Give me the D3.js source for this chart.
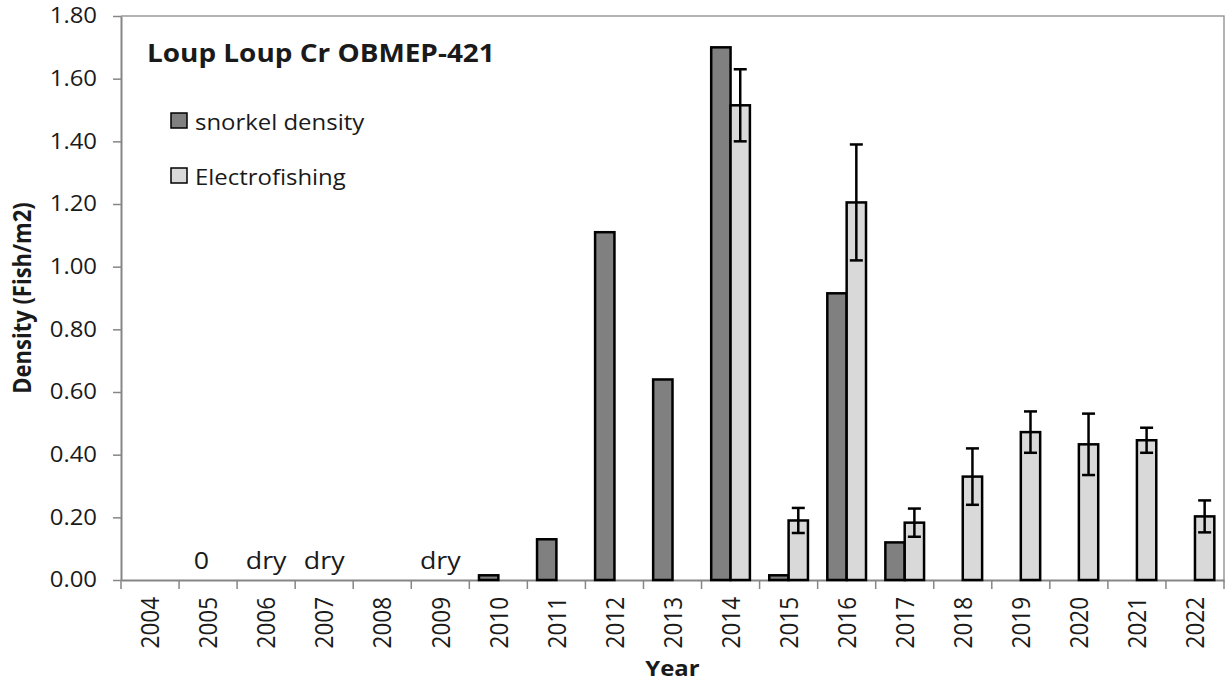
<!DOCTYPE html>
<html lang="en">

<head>
    <meta charset="UTF-8">
    <title>Loup Loup Cr OBMEP-421</title>
    <style>
        body { margin: 0; background: #fff; }
        text { font-family: "Open Sans", sans-serif; fill: #1a1a1a; }
    </style>
</head>

<body>
    <svg width="1225" height="684"></svg>
    <script src="https://d3js.org/d3.v7.min.js"></script>
    <script>

        // data
        let years = ["2004", "2005", "2006", "2007", "2008", "2009", "2010", "2011", "2012", "2013",
            "2014", "2015", "2016", "2017", "2018", "2019", "2020", "2021", "2022"];
        let snorkel = [null, 0, null, null, null, null, 0.015, 0.13, 1.11, 0.64,
            1.70, 0.015, 0.915, 0.12, null, null, null, null, null];
        let electro = [null, null, null, null, null, null, null, null, null, null,
            1.515, 0.19, 1.205, 0.183, 0.33, 0.472, 0.433, 0.446, 0.203];
        let electroErr = [null, null, null, null, null, null, null, null, null, null,
            0.115, 0.04, 0.185, 0.045, 0.09, 0.066, 0.098, 0.04, 0.051];
        let notes = [null, "0", "dry", "dry", null, "dry", null, null, null, null,
            null, null, null, null, null, null, null, null, null];
        let yTicks = [0, 0.2, 0.4, 0.6, 0.8, 1.0, 1.2, 1.4, 1.6, 1.8];
        let seriesNames = ["snorkel density", "Electrofishing"];
        let seriesColors = ["#808080", "#d9d9d9"];

        let SX = 1.14; // the picture's text is a bit wide

        let svg = d3.select("svg"),
            margin = { top: 16, right: 1, bottom: 104, left: 121 },
            width = +svg.attr("width") - margin.left - margin.right,
            height = +svg.attr("height") - margin.top - margin.bottom,
            g = svg.append("g").attr("transform", "translate(" + margin.left + "," + margin.top + ")");

        let x = d3.scaleBand().domain(years).range([0, width]);
        let sub = d3.scaleBand().domain([0, 1]).range([0, x.bandwidth()]).paddingOuter(0.5);
        let y = d3.scaleLinear().domain([0, 1.8]).range([height, 0]);

        // plot border (top + right)
        g.append("path")
            .attr("d", "M0,0H" + width + "V" + height)
            .attr("fill", "none")
            .attr("stroke", "#9a9a9a")
            .attr("stroke-width", 1.5);

        // y axis
        let ya = g.append("g")
            .call(d3.axisLeft(y).tickValues(yTicks).tickFormat(d3.format(".2f")).tickSize(8).tickSizeOuter(0));
        ya.select(".domain").attr("stroke", "#868686").attr("stroke-width", 2);
        ya.selectAll(".tick line").attr("stroke", "#868686").attr("stroke-width", 1.5);
        ya.selectAll(".tick text")
            .attr("x", -21)
            .attr("transform", "scale(" + SX + ",1)")
            .style("font-size", "21px")
            .attr("fill", "#1a1a1a");

        // x axis: labels at centres, ticks at boundaries
        let xa = g.append("g")
            .attr("transform", "translate(0," + height + ")")
            .call(d3.axisBottom(x).tickSize(0).tickSizeOuter(0));
        xa.select(".domain").attr("stroke", "#868686").attr("stroke-width", 2);
        xa.selectAll(".tick text")
            .attr("x", 0).attr("y", 0)
            .attr("dy", "0.36em")
            .attr("text-anchor", "end")
            .attr("transform", "translate(0,17) scale(" + SX + ",1) rotate(-90)")
            .style("font-size", "22.5px")
            .attr("fill", "#1a1a1a");

        let bounds = years.map(d => x(d)).concat([width]);
        xa.selectAll(".bound")
            .data(bounds)
            .enter().append("line")
            .attr("x1", d => d).attr("x2", d => d)
            .attr("y1", 0).attr("y2", 9)
            .attr("stroke", "#868686")
            .attr("stroke-width", 1.5);

        // bars
        let series = [snorkel, electro];
        series.forEach((vals, s) => {
            g.append("g").selectAll("rect")
                .data(years.map((yr, i) => ({ yr: yr, v: vals[i] })).filter(d => d.v))
                .enter().append("rect")
                .attr("x", d => x(d.yr) + sub(s))
                .attr("width", sub.bandwidth())
                .attr("y", d => y(d.v))
                .attr("height", d => y(0) - y(d.v))
                .attr("fill", seriesColors[s])
                .attr("stroke", "#000")
                .attr("stroke-width", 2.5);
        });

        // error bars on electrofishing
        let errs = years.map((yr, i) => ({ yr: yr, v: electro[i], e: electroErr[i] })).filter(d => d.e);
        let eg = g.append("g").selectAll("g")
            .data(errs)
            .enter().append("g")
            .attr("transform", d => "translate(" + (x(d.yr) + sub(1) + sub.bandwidth() / 2) + ",0)")
            .attr("stroke", "#000")
            .attr("stroke-width", 2.5);
        eg.append("line")
            .attr("y1", d => y(d.v - d.e)).attr("y2", d => y(d.v + d.e));
        eg.append("line")
            .attr("x1", -6.5).attr("x2", 6.5)
            .attr("y1", d => y(d.v + d.e)).attr("y2", d => y(d.v + d.e));
        eg.append("line")
            .attr("x1", -6.5).attr("x2", 6.5)
            .attr("y1", d => y(d.v - d.e)).attr("y2", d => y(d.v - d.e));

        // "0" / "dry" notes
        g.append("g").selectAll("text")
            .data(years.map((yr, i) => ({ yr: yr, t: notes[i] })).filter(d => d.t))
            .enter().append("text")
            .attr("transform", d => {
                let cx = d.t == "0" ? x(d.yr) + sub(0) + sub.bandwidth() / 2 + 3 : x(d.yr) + x.bandwidth() / 2;
                return "translate(" + cx + "," + (y(0) - 11) + ") scale(" + SX + ",1)";
            })
            .attr("text-anchor", "middle")
            .style("font-size", "23.5px")
            .text(d => d.t);

        // title
        svg.append("text")
            .attr("transform", "translate(147,62) scale(" + SX + ",1)")
            .style("font-size", "24.5px")
            .style("font-weight", "bold")
            .text("Loup Loup Cr OBMEP-421");

        // legend
        let lg = svg.append("g").selectAll("g")
            .data(seriesNames)
            .enter().append("g")
            .attr("transform", (d, i) => "translate(171," + (113 + i * 55) + ")");
        lg.append("rect")
            .attr("width", 16).attr("height", 15)
            .attr("fill", (d, i) => seriesColors[i])
            .attr("stroke", "#000")
            .attr("stroke-width", 1.5);
        lg.append("text")
            .attr("transform", "translate(24,17) scale(" + SX + ",1)")
            .style("font-size", "21px")
            .text(d => d);

        // axis titles
        svg.append("text")
            .attr("transform", "translate(" + (margin.left + width / 2) + ",676) scale(" + SX + ",1)")
            .attr("text-anchor", "middle")
            .style("font-size", "21px")
            .style("font-weight", "bold")
            .text("Year");

        svg.append("text")
            .attr("transform", "translate(31," + (margin.top + height / 2) + ") scale(" + SX + ",1) rotate(-90)")
            .attr("text-anchor", "middle")
            .style("font-size", "22px")
            .style("font-weight", "bold")
            .text("Density (Fish/m2)");

    </script>

</body>

</html>
